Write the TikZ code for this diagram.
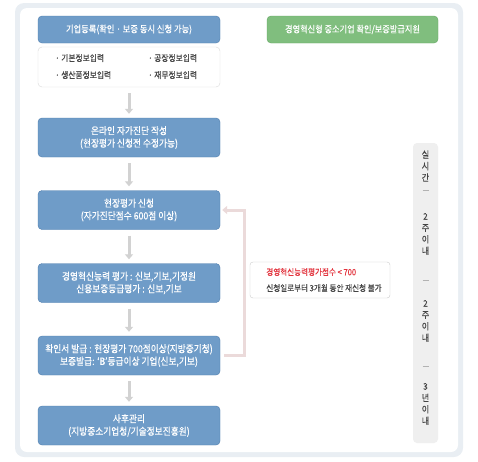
\documentclass[tikz,border=0pt]{standalone}
\usepackage{fontspec}
\setmainfont[FakeStretch=0.88, FakeBold=0.4]{Noto Sans CJK KR}
\usetikzlibrary{arrows.meta,positioning}

\definecolor{boxblue}{HTML}{6F9CC8}
\definecolor{boxblueline}{HTML}{4E7DAE}
\definecolor{boxgreen}{HTML}{80BE7E}
\definecolor{boxgreenline}{HTML}{63A762}
\definecolor{framegray}{HTML}{E9EEF3}
\definecolor{colgray}{HTML}{EFEFEF}
\definecolor{arrowgray}{HTML}{D2D2D2}
\definecolor{backpink}{HTML}{EBDADA}
\definecolor{notered}{HTML}{E3343E}
\definecolor{textgray}{HTML}{444444}

\begin{document}
\begin{tikzpicture}[x=1pt, y=-1pt,
  blueblock/.style={draw=boxblueline, fill=boxblue, rounded corners=4pt, minimum width=182pt,
    minimum height=39pt, inner sep=0pt, text=white, align=center, font=\fontsize{9.9}{12.5}\selectfont},
  greenblock/.style={draw=boxgreenline, fill=boxgreen, rounded corners=4pt, minimum width=171pt,
    minimum height=27pt, inner sep=0pt, text=white, font=\fontsize{9.3}{12}\selectfont},
  itembox/.style={draw=black!15, fill=white, rounded corners=4pt, minimum width=182pt, minimum height=40pt},
  itemtext/.style={anchor=west, inner sep=0pt, text=textgray, font=\fontsize{8.8}{9}\selectfont},
  notebox/.style={draw=black!20, fill=white, rounded corners=3pt, minimum width=140pt, minimum height=36pt,
    align=left, inner sep=0pt, font=\fontsize{8.6}{16}\selectfont, text=textgray},
  timetext/.style={align=center, inner sep=0pt, text=textgray, font=\fontsize{9.2}{11.5}\selectfont},
  flowarrow/.style={arrowgray, line width=3pt, -{Triangle[width=8pt,length=5pt]}, shorten <=6pt, shorten >=4pt},
  backarrow/.style={backpink, line width=3pt, -{Triangle[width=8pt,length=5pt]}, shorten <=4pt, shorten >=2pt}]
\useasboundingbox (0,0) rectangle (478,461);
% frame
\fill[framegray, rounded corners=9pt] (15,3) rectangle (463,457);
\fill[white, rounded corners=7pt] (20,8) rectangle (458,452);
\fill[colgray, rounded corners=4pt] (413,143) rectangle (438,443);

% main column
\node[blueblock, minimum height=27pt, font=\fontsize{9.4}{12}\selectfont] (reg) at (129,29.5) {기업등록(확인 · 보증 동시 신청 가능)};
\node[itembox] (items) at (129,67) {};
\node[itemtext] (item1) at (55,58) {· 기본정보입력};
\node[itemtext] (item2) at (148,58) {· 공장정보입력};
\node[itemtext] (item3) at (55,75) {· 생산품정보입력};
\node[itemtext] (item4) at (148,75) {· 재무정보입력};
\node[blueblock] (selfdiag) at (129,137.5) {온라인 자가진단 작성\\(현장평가 신청전 수정가능)};
\node[blueblock] (apply) at (129,210) {현장평가 신청\\(자가진단점수 600점 이상)};
\node[blueblock] (evalbox) at (129,283) {경영혁신능력 평가 : 신보,기보,기정원\\신용보증등급평가 : 신보,기보};
\node[blueblock] (issue) at (129,355.5) {확인서 발급 : 현장평가 700점이상(지방중기청)\\보증발급: ‘B’등급이상 기업(신보,기보)};
\node[blueblock] (aftercare) at (129,425.5) {사후관리\\(지방중소기업청/기술정보진흥원)};

\foreach \a/\b in {items/selfdiag, selfdiag/apply, apply/evalbox, evalbox/issue, issue/aftercare} {
    \draw[flowarrow] (\a) -- (\b);
}

% right side
\node[greenblock] (support) at (352.5,29.5) {경영혁신형 중소기업 확인/보증발급지원};
\draw[backarrow] (issue.east) -- ++(24,0) |- (apply.east);
\node[notebox] (note) at (320,280) {\hspace{8pt}{\color{notered}경영혁신능력평가점수 < 700}\\\hspace{8pt}신청일로부터 3개월 동안 재신청 불가};

% time column
\node[timetext] (time1) at (425.5,166) {실\\시\\간};
\node[timetext] (time2) at (425.5,234) {2\\주\\이\\내};
\node[timetext] (time3) at (425.5,321) {2\\주\\이\\내};
\node[timetext] (time4) at (425.5,404) {3\\년\\이\\내};
\foreach \y in {190, 280, 366} {
    \draw[black!30, line width=0.5pt] (422.5,\y) -- (428.5,\y);
}
\end{tikzpicture}
\end{document}
